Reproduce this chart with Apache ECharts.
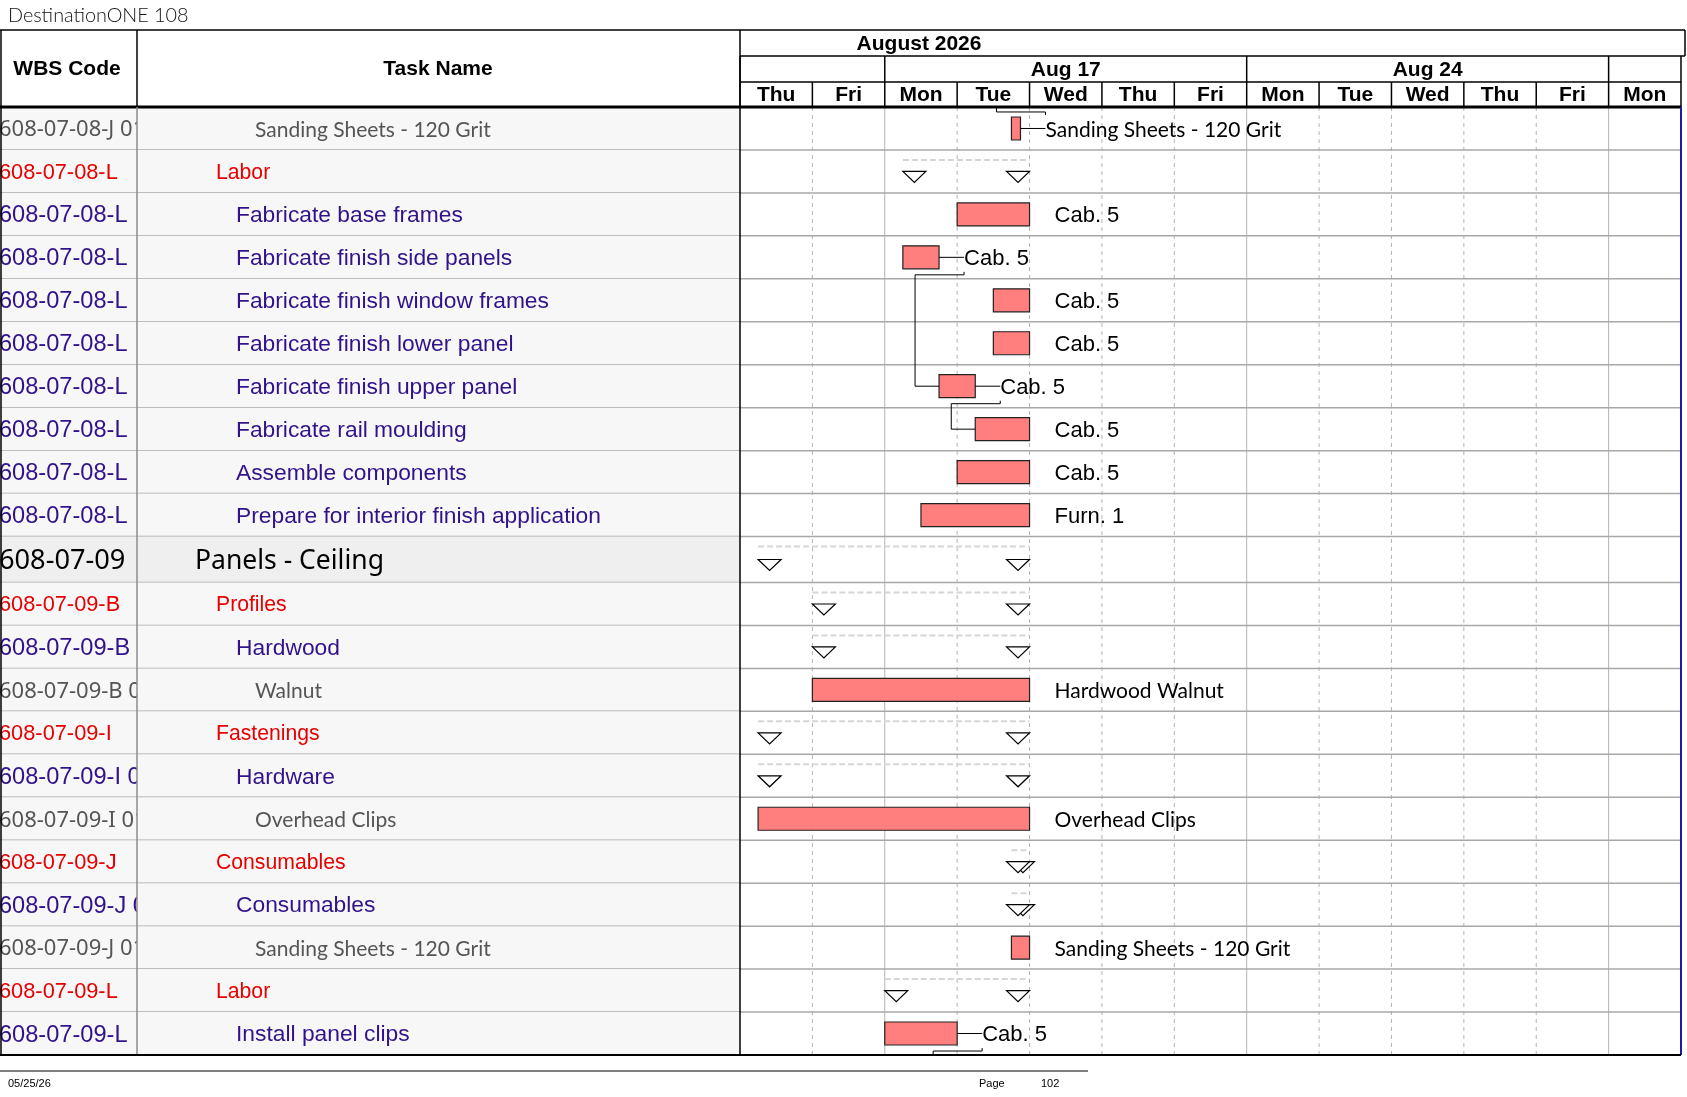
<!DOCTYPE html>
<html lang="en">
<head>
<meta charset="UTF-8">
<title>DestinationONE 108</title>
<script src="https://cdn.jsdelivr.net/npm/echarts@6/dist/echarts.min.js"></script>
<style>html,body{margin:0;padding:0;background:#fff}</style>
</head>
<body>
<div id="ec" style="width:1687px;height:1097px"></div>
<script>
// ---- data ----
var days = ['Thu', 'Fri', 'Mon', 'Tue', 'Wed', 'Thu', 'Fri', 'Mon', 'Tue', 'Wed', 'Thu', 'Fri', 'Mon'];
var weeks = [['', 0, 2], ['Aug 17', 2, 7], ['Aug 24', 7, 12], ['', 12, 13]];
var months = [['August 2026', 0, 13]];

var wbsCodes = [
    '608-07-08-J 01', '608-07-08-L', '608-07-08-L', '608-07-08-L', '608-07-08-L', '608-07-08-L',
    '608-07-08-L', '608-07-08-L', '608-07-08-L', '608-07-08-L', '608-07-09', '608-07-09-B',
    '608-07-09-B', '608-07-09-B 01', '608-07-09-I', '608-07-09-I 01', '608-07-09-I 01 01', '608-07-09-J',
    '608-07-09-J 01', '608-07-09-J 01 01', '608-07-09-L', '608-07-09-L'
];
var taskNames = [
    'Sanding Sheets - 120 Grit', 'Labor', 'Fabricate base frames', 'Fabricate finish side panels',
    'Fabricate finish window frames', 'Fabricate finish lower panel', 'Fabricate finish upper panel',
    'Fabricate rail moulding', 'Assemble components', 'Prepare for interior finish application',
    'Panels - Ceiling', 'Profiles', 'Hardwood', 'Walnut', 'Fastenings', 'Hardware', 'Overhead Clips',
    'Consumables', 'Consumables', 'Sanding Sheets - 120 Grit', 'Labor', 'Install panel clips'
];
var levels = [3, 1, 2, 2, 2, 2, 2, 2, 2, 2, 0, 1, 2, 3, 1, 2, 3, 1, 2, 3, 1, 2];
var isSummary = [0, 1, 0, 0, 0, 0, 0, 0, 0, 0, 1, 1, 1, 0, 1, 1, 0, 1, 1, 0, 1, 0];
// start / finish in working days from Thu Aug 13
var starts = [3.75, 2.25, 3, 2.25, 3.5, 3.5, 2.75, 3.25, 3, 2.5, 0.25, 1, 1, 1, 0.25, 0.25, 0.25, 3.75, 3.75, 3.75, 2, 2];
var finishes = [3.875, 4, 4, 2.75, 4, 4, 3.25, 4, 4, 4, 4, 4, 4, 4, 4, 4, 4, 4, 4, 4, 4, 3];
var barLabels = [
    'Sanding Sheets - 120 Grit', '', 'Cab. 5', 'Cab. 5', 'Cab. 5', 'Cab. 5', 'Cab. 5', 'Cab. 5', 'Cab. 5',
    'Furn. 1', '', '', '', 'Hardwood Walnut', '', '', 'Overhead Clips', '', '', 'Sanding Sheets - 120 Grit', '', 'Cab. 5'
];
// [predecessor row, successor row]; -1 / 22 = off this page
var links = [[0, -1], [3, 6], [6, 7], [21, 22]];

// ---- layout / styles ----
var n = taskNames.length;
var rowH = levels.map(function (l) { return l === 0 ? 1.07 : 1; });
var rowTop = [];
var acc = 0;
for (var k = 0; k < n; k++) { rowTop.push(acc); acc += rowH[k]; }
var totalRows = acc;

var ARIAL = '"Liberation Sans", Arial, sans-serif';
var levelStyle = {
    0: { color: '#000', wbsFont: '27.2px "Noto Sans"', taskFont: '26.5px "Noto Sans"', indent: 58, bg: '#efefef' },
    1: { color: '#e60000', wbsFont: '21.8px ' + ARIAL, taskFont: '21.2px ' + ARIAL, indent: 79, bg: '#f7f7f7' },
    2: { color: '#32128a', wbsFont: '23.6px ' + ARIAL, taskFont: '22.8px ' + ARIAL, indent: 99, bg: '#f7f7f7' },
    3: { color: '#555', wbsFont: '22px "Noto Sans"', taskFont: '21px Lato', indent: 118, bg: '#f7f7f7' }
};
var ROWLINE = '#a8a8a8';
var BAR = '#ff7f7f';
var LABEL_GAP = 25;

var chart = echarts.init(document.getElementById('ec'));

function rowY(api, i) {
    var t = api.coord([0, rowTop[i]])[1];
    var b = api.coord([0, rowTop[i] + rowH[i]])[1];
    return { top: t, bottom: b, mid: (t + b) / 2 };
}

function tableRender(col) {
    return function (params, api) {
        var i = params.dataIndex;
        var p0 = api.coord([0, rowTop[i]]);
        var p1 = api.coord([1, rowTop[i] + rowH[i]]);
        var st = levelStyle[levels[i]];
        var tx = col === 0 ? p0[0] - 1 : p0[0] + st.indent;
        return {
            type: 'group',
            children: [
                { type: 'rect', shape: { x: p0[0], y: p0[1], width: p1[0] - p0[0], height: p1[1] - p0[1] }, style: { fill: st.bg } },
                { type: 'line', shape: { x1: p0[0], y1: p1[1], x2: p1[0], y2: p1[1] }, style: { stroke: ROWLINE, lineWidth: 1.5 } },
                {
                    type: 'text', x: tx, y: (p0[1] + p1[1]) / 2 + 1.5,
                    style: {
                        text: col === 0 ? wbsCodes[i] : taskNames[i], fill: st.color,
                        font: col === 0 ? st.wbsFont : st.taskFont, textAlign: 'left', verticalAlign: 'middle'
                    }
                }
            ]
        };
    };
}

function dayRender(params, api) {
    var i = params.dataIndex;
    var x0 = api.coord([i, 0]);
    var x1 = api.coord([i + 1, totalRows]);
    var top = x0[1];
    var ch = [];
    if (i > 0) {
        var mon = days[i] === 'Mon';
        ch.push({
            type: 'line', shape: { x1: x0[0], y1: top, x2: x0[0], y2: x1[1] },
            style: { stroke: '#b4b4b4', lineWidth: 1, lineDash: mon ? null : [4, 4] }, z2: 0
        });
    }
    ch.push({ type: 'line', shape: { x1: x0[0], y1: top - 25, x2: x0[0], y2: top }, style: { stroke: '#000', lineWidth: 1.5 } });
    ch.push({
        type: 'text', x: (x0[0] + x1[0]) / 2, y: top - 12,
        style: { text: days[i], fill: '#000', font: 'bold 21px ' + ARIAL, textAlign: 'center', verticalAlign: 'middle' }
    });
    return { type: 'group', children: ch };
}

function weekRender(params, api) {
    var w = weeks[params.dataIndex];
    var a = api.coord([w[1], 0]);
    var b = api.coord([w[2], 0]);
    var top = a[1];
    return {
        type: 'group',
        children: [
            { type: 'line', shape: { x1: a[0], y1: top - 51, x2: a[0], y2: top - 25 }, style: { stroke: '#000', lineWidth: 1.5 } },
            { type: 'line', shape: { x1: a[0], y1: top - 25, x2: b[0], y2: top - 25 }, style: { stroke: '#000', lineWidth: 1.5 } },
            {
                type: 'text', x: (a[0] + b[0]) / 2, y: top - 37,
                style: { text: w[0], fill: '#000', font: 'bold 21px ' + ARIAL, textAlign: 'center', verticalAlign: 'middle' }
            }
        ]
    };
}

function monthRender(params, api) {
    var m = months[params.dataIndex];
    var a = api.coord([m[1], 0]);
    var b = api.coord([m[2], 0]);
    var top = a[1];
    return {
        type: 'group',
        children: [
            { type: 'line', shape: { x1: a[0], y1: top - 51, x2: b[0] + 4, y2: top - 51 }, style: { stroke: '#000', lineWidth: 1.5 } },
            { type: 'line', shape: { x1: b[0] + 4, y1: top - 77, x2: b[0] + 4, y2: top - 51 }, style: { stroke: '#000', lineWidth: 1.5 } },
            {
                type: 'text', x: a[0] + 179, y: top - 63,
                style: { text: m[0], fill: '#000', font: 'bold 21px ' + ARIAL, textAlign: 'center', verticalAlign: 'middle' }
            }
        ]
    };
}

function ganttRender(params, api) {
    var i = params.dataIndex;
    var y = rowY(api, i);
    var left = api.coord([0, 0])[0];
    var right = api.coord([days.length, 0])[0];
    var xs = api.coord([starts[i], 0])[0];
    var xe = api.coord([finishes[i], 0])[0];
    var ch = [
        { type: 'line', shape: { x1: left, y1: y.bottom, x2: right, y2: y.bottom }, style: { stroke: ROWLINE, lineWidth: 1.5 } }
    ];
    if (isSummary[i]) {
        ch.push({ type: 'line', shape: { x1: xs, y1: y.top + 10, x2: xe, y2: y.top + 10 }, style: { stroke: '#d6d6d6', lineWidth: 2, lineDash: [6, 3] } });
        ch.push({ type: 'polygon', shape: { points: [[xs, y.mid], [xs + 23, y.mid], [xs + 11.5, y.mid + 11]] }, style: { fill: '#fff', stroke: '#000', lineWidth: 1.2 } });
        ch.push({ type: 'polygon', shape: { points: [[xe - 23, y.mid], [xe, y.mid], [xe - 11.5, y.mid + 11]] }, style: { fill: '#fff', stroke: '#000', lineWidth: 1.2 } });
    } else {
        ch.push({ type: 'rect', shape: { x: xs, y: y.mid - 11.5, width: xe - xs, height: 23 }, style: { fill: BAR, stroke: '#222', lineWidth: 1.2 } });
        ch.push({
            type: 'text', x: xe + LABEL_GAP, y: y.mid + 1.5,
            style: {
                text: barLabels[i], fill: '#000', font: levels[i] === 3 ? '21px Lato' : '22px ' + ARIAL,
                textAlign: 'left', verticalAlign: 'middle'
            }
        });
    }
    return { type: 'group', children: ch };
}

function linkRender(params, api) {
    var l = links[params.dataIndex];
    var f = l[0], t = l[1];
    var pc = rowY(api, f).mid;
    var pe = api.coord([finishes[f], 0])[0];
    var lx = pe + LABEL_GAP;
    var onPage = t >= 0 && t < n;
    var sx = api.coord([onPage ? starts[t] : finishes[f], 0])[0];
    var down = t > f;
    var turn = down ? pc + 17.5 : pc - 16.5;
    var sc = onPage ? rowY(api, t).mid : (down ? pc + 80 : pc - 80);
    return {
        type: 'group',
        children: [
            { type: 'line', shape: { x1: pe, y1: pc, x2: lx, y2: pc }, style: { stroke: '#000', lineWidth: 1 } },
            {
                type: 'polyline',
                shape: { points: [[lx, down ? pc + 14.5 : pc - 13.5], [lx, turn], [sx - 24, turn], [sx - 24, sc], [sx, sc]] },
                style: { stroke: '#000', lineWidth: 1, fill: null }
            }
        ]
    };
}

function idx(arr) { return arr.map(function (_, i) { return i; }); }

var GTOP = 107, GH = 948;
var option = {
    animation: false,
    grid: [
        { left: 0, top: GTOP, width: 137, height: GH },
        { left: 137, top: GTOP, width: 603, height: GH },
        { left: 740, top: GTOP, width: 941, height: GH }
    ],
    xAxis: [
        { gridIndex: 0, type: 'value', min: 0, max: 1, show: false },
        { gridIndex: 1, type: 'value', min: 0, max: 1, show: false },
        { gridIndex: 2, type: 'value', min: 0, max: days.length, show: false }
    ],
    yAxis: [0, 1, 2].map(function (g) {
        return { gridIndex: g, type: 'value', min: 0, max: totalRows, inverse: true, show: false };
    }),
    series: [
        { type: 'custom', name: 'wbs', xAxisIndex: 0, yAxisIndex: 0, clip: true, renderItem: tableRender(0), data: idx(wbsCodes) },
        { type: 'custom', name: 'task', xAxisIndex: 1, yAxisIndex: 1, clip: true, renderItem: tableRender(1), data: idx(taskNames) },
        { type: 'custom', name: 'rows', xAxisIndex: 2, yAxisIndex: 2, clip: false, z: 2, renderItem: ganttRender, data: idx(taskNames) },
        { type: 'custom', name: 'days', xAxisIndex: 2, yAxisIndex: 2, clip: false, z: 1, renderItem: dayRender, data: idx(days) },
        { type: 'custom', name: 'weeks', xAxisIndex: 2, yAxisIndex: 2, clip: false, z: 1, renderItem: weekRender, data: idx(weeks) },
        { type: 'custom', name: 'months', xAxisIndex: 2, yAxisIndex: 2, clip: false, z: 1, renderItem: monthRender, data: idx(months) },
        { type: 'custom', name: 'links', xAxisIndex: 2, yAxisIndex: 2, clip: true, z: 3, renderItem: linkRender, data: idx(links) }
    ],
    graphic: [
        { type: 'text', left: 8, top: 6, style: { text: 'DestinationONE 108', fill: '#111', font: '300 19.8px Lato' } },
        // header frame
        { type: 'line', shape: { x1: 0, y1: 30, x2: 1685, y2: 30 }, style: { stroke: '#000', lineWidth: 1.5 }, z: 10 },
        { type: 'line', shape: { x1: 0, y1: 107, x2: 1681, y2: 107 }, style: { stroke: '#000', lineWidth: 3 }, z: 10 },
        { type: 'line', shape: { x1: 1, y1: 30, x2: 1, y2: 1055 }, style: { stroke: '#000', lineWidth: 1.5 }, z: 10 },
        { type: 'line', shape: { x1: 137, y1: 30, x2: 137, y2: 107 }, style: { stroke: '#000', lineWidth: 1.5 }, z: 10 },
        { type: 'line', shape: { x1: 137, y1: 107, x2: 137, y2: 1055 }, style: { stroke: '#8c8c8c', lineWidth: 1.5 }, z: 10 },
        { type: 'line', shape: { x1: 740, y1: 30, x2: 740, y2: 1055 }, style: { stroke: '#000', lineWidth: 1.5 }, z: 10 },
        { type: 'line', shape: { x1: 1681, y1: 56, x2: 1681, y2: 107 }, style: { stroke: '#000', lineWidth: 1.5 }, z: 10 },
        { type: 'line', shape: { x1: 1681, y1: 107, x2: 1681, y2: 1055 }, style: { stroke: '#1a1aa8', lineWidth: 2 }, z: 10 },
        { type: 'line', shape: { x1: 0, y1: 1055, x2: 1681, y2: 1055 }, style: { stroke: '#000', lineWidth: 2 }, z: 10 },
        { type: 'text', x: 67, y: 69, style: { text: 'WBS Code', fill: '#000', font: 'bold 21px ' + ARIAL, textAlign: 'center', verticalAlign: 'middle' }, z: 10 },
        { type: 'text', x: 438, y: 69, style: { text: 'Task Name', fill: '#000', font: 'bold 21px ' + ARIAL, textAlign: 'center', verticalAlign: 'middle' }, z: 10 },
        // footer
        { type: 'line', shape: { x1: 0, y1: 1071, x2: 1088, y2: 1071 }, style: { stroke: '#000', lineWidth: 1 } },
        { type: 'text', x: 8, y: 1084, style: { text: '05/25/26', fill: '#000', font: '11px ' + ARIAL, verticalAlign: 'middle' } },
        { type: 'text', x: 979, y: 1084, style: { text: 'Page', fill: '#000', font: '11px ' + ARIAL, verticalAlign: 'middle' } },
        { type: 'text', x: 1041, y: 1084, style: { text: '102', fill: '#000', font: '11px ' + ARIAL, verticalAlign: 'middle' } }
    ]
};
chart.setOption(option);
</script>
</body>
</html>
